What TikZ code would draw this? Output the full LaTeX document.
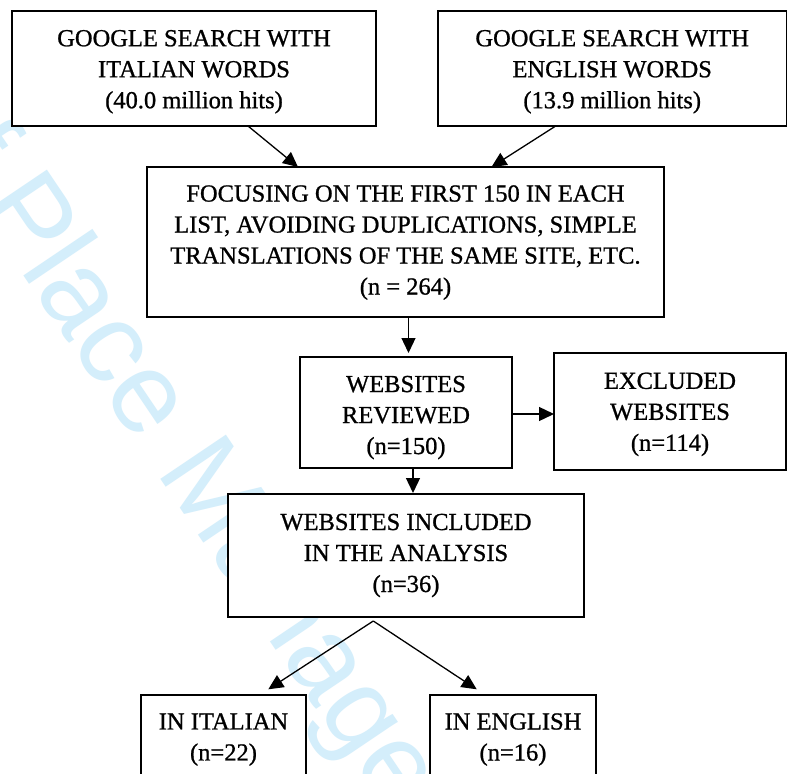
\documentclass[tikz,border=0pt]{standalone}
\usepackage{fontspec}
\setmainfont[FakeBold=0.9]{Liberation Serif}
\newfontfamily\wmfont{Liberation Sans}
\usetikzlibrary{arrows.meta}
\definecolor{wmcol}{RGB}{212,238,251}
\newcommand\hs[1]{\rule{0pt}{#1pt}}
\tikzset{
  box/.style={draw=black, line width=1.9pt, fill=white, rectangle, inner sep=0pt, outer sep=0pt,
    align=center, font=\fontsize{24.5}{31}\selectfont},
  arr/.style={line width=1.3pt, -{Triangle[length=15pt,width=14pt]}},
  wm/.style={text=wmcol, rotate=-56, anchor=base west, inner sep=0pt,
    font=\wmfont\fontsize{115}{115}\selectfont}
}
\begin{document}
\begin{tikzpicture}[x=1pt,y=-1pt]
\useasboundingbox (0,0) rectangle (788,774);
\fill[white] (0,0) rectangle (788,774);
\clip (0,0) rectangle (788,774);
\node[wm] (wmk) at (-95,100) {of Place Management};
\node[box, minimum width=364pt, minimum height=115pt] (b1) at (194,68.5)
  {\hs{22.7}GOOGLE SEARCH WITH\\ ITALIAN WORDS\\ (40.0 million hits)};
\node[box, minimum width=348.5pt, minimum height=115pt] (b2) at (612.2,68.5)
  {\hs{22.7}GOOGLE SEARCH WITH\\ ENGLISH WORDS\\ (13.9 million hits)};
\node[box, minimum width=517pt, minimum height=150pt] (b3) at (405.5,242)
  {\hs{17.3}FOCUSING ON THE FIRST 150 IN EACH\\ LIST, AVOIDING DUPLICATIONS, SIMPLE\\ TRANSLATIONS OF THE SAME SITE, ETC.\\ (n = 264)};
\node[box, minimum width=212pt, minimum height=111pt] (b4) at (406,412.5)
  {\hs{26.3}WEBSITES\\ REVIEWED\\ (n=150)};
\node[box, minimum width=232pt, minimum height=117pt] (b5) at (670,411.5)
  {\hs{21.9}EXCLUDED\\ WEBSITES\\ (n=114)};
\node[box, minimum width=356pt, minimum height=123pt] (b6) at (406,555.5)
  {WEBSITES INCLUDED\\ IN THE ANALYSIS\\ (n=36)};
\node[box, minimum width=165pt, minimum height=89pt] (b7) at (223.5,739.5)
  {IN ITALIAN\\ (n=22)};
\node[box, minimum width=165.5pt, minimum height=89pt] (b8) at (513,739.5)
  {IN ENGLISH\\ (n=16)};
\draw[arr] ([xshift=54pt]b1.south) -- ([xshift=-107.5pt]b3.north);
\draw[arr] ([xshift=-56.5pt]b2.south) -- ([xshift=86pt]b3.north);
\draw[arr] ([xshift=3pt]b3.south) -- ([xshift=2.5pt,yshift=4pt]b4.north);
\draw[arr] ([yshift=-1.5pt]b4.east) -- ([yshift=-1.5pt]b4.east -| b5.west);
\draw[arr] ([xshift=7pt]b4.south) -- ([xshift=7pt,yshift=1pt]b6.north);
\coordinate (apex) at ([xshift=-32.7pt,yshift=-4pt]b6.south);
\draw[arr] (apex) -- ([xshift=44.8pt,yshift=5.7pt]b7.north);
\draw[arr] (apex) -- ([xshift=-36.3pt,yshift=5.7pt]b8.north);
\end{tikzpicture}
\end{document}
